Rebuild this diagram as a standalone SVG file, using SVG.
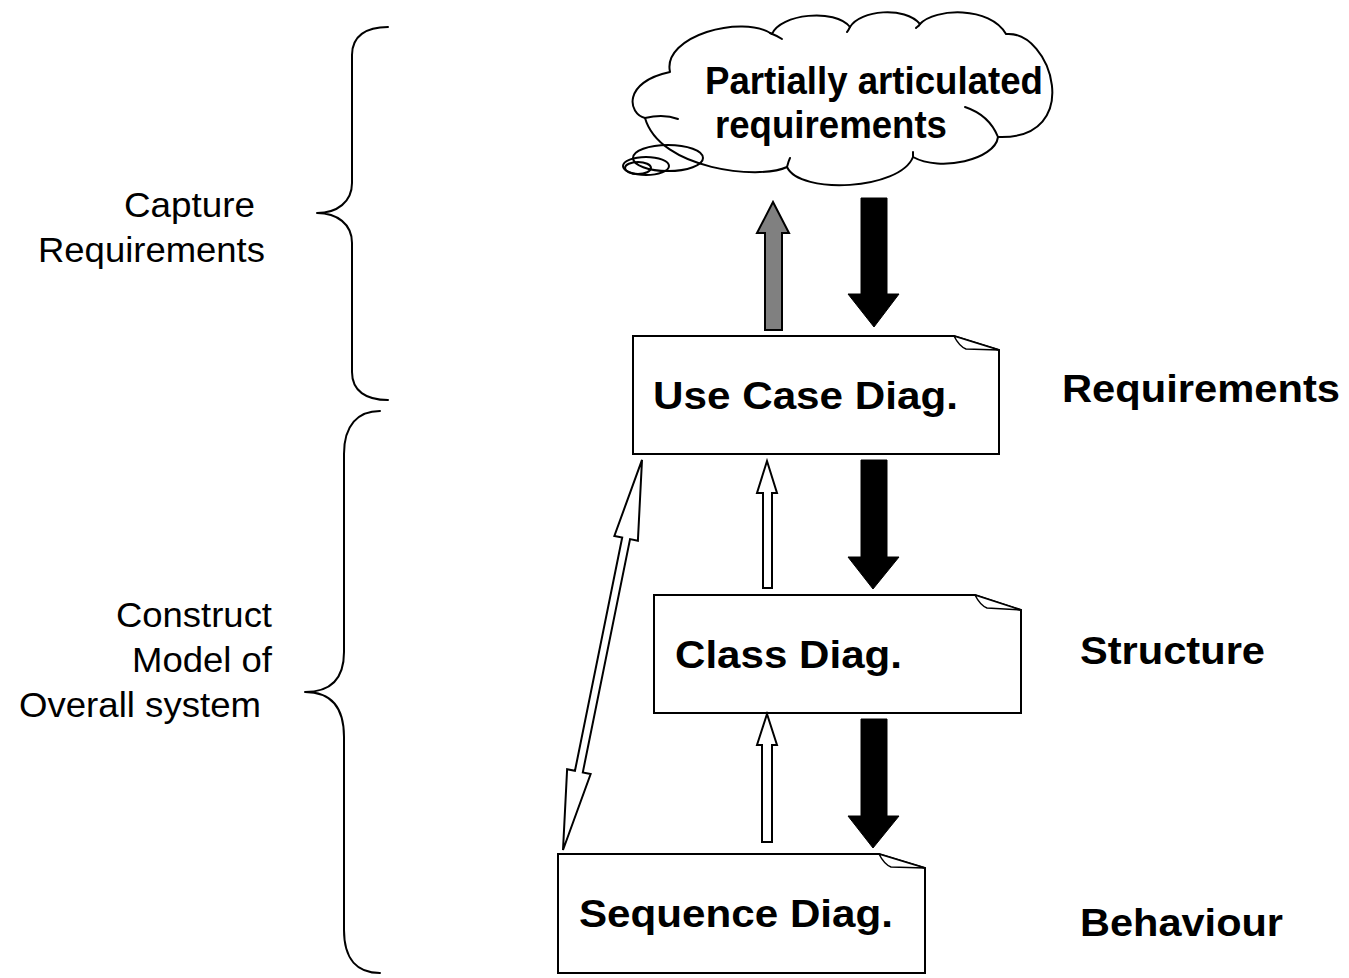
<svg xmlns="http://www.w3.org/2000/svg" width="1349" height="978" viewBox="0 0 1349 978">
  <style>
    .outline { fill: none; stroke: #000; stroke-width: 2; stroke-linecap: round; stroke-linejoin: round; }
    .doc { fill: #fff; stroke: #000; stroke-width: 2; stroke-linejoin: miter; }
    .fold { fill: #fff; stroke: #000; stroke-width: 1.5; stroke-linejoin: round; }
    .label { font-family: "Liberation Sans", Arial, sans-serif; font-size: 35px; fill: #000; }
    .title { font-family: "Liberation Sans", Arial, sans-serif; font-size: 39px; font-weight: bold; fill: #000; }
    .down { fill: #000; stroke: #000; stroke-width: 1; }
    .up-grey { fill: #808080; stroke: #000; stroke-width: 2; stroke-linejoin: miter; }
    .up-white { fill: #fff; stroke: #000; stroke-width: 2; stroke-linejoin: miter; }
  </style>

  <!-- phase braces and their captions -->
  <g id="brace-capture">
    <path class="outline" d="M388,27 C366,27 352,36 352,55 V183 C352,202 337,213 317,213 C337,213 352,224 352,243 V372 C352,391 366,400 388,400"/>
    <text class="label" x="124" y="217" textLength="131" lengthAdjust="spacingAndGlyphs">Capture</text>
    <text class="label" x="38" y="262" textLength="227" lengthAdjust="spacingAndGlyphs">Requirements</text>
  </g>
  <g id="brace-construct">
    <path class="outline" d="M380,411 C358,411 344,425 344,454 V652 C344,680 330,692 305,692 C330,692 344,706 344,737 V930 C344,960 358,973 380,973"/>
    <text class="label" x="116" y="627" textLength="156" lengthAdjust="spacingAndGlyphs">Construct</text>
    <text class="label" x="132" y="672" textLength="140" lengthAdjust="spacingAndGlyphs">Model of</text>
    <text class="label" x="19" y="717" textLength="242" lengthAdjust="spacingAndGlyphs">Overall system</text>
  </g>

  <!-- thought cloud -->
  <g id="cloud">
    <path d="M645,118 C628,114 622,82 670,72 C662,36 742,14 772,34 C780,14 835,8 850,27 C860,10 905,6 920,24 C935,8 990,6 1006,34 C1052,30 1085,140 998,137 C995,160 940,172 913,157 C900,190 800,195 787,167 C760,180 660,170 645,118 Z" fill="#fff" stroke="#000" stroke-width="2" stroke-linejoin="round"/>
    <path class="outline" d="M645,118 C658,115 670,116 678,119"/>
    <path class="outline" d="M770,33 C775,35 779,37 782,39"/>
    <path class="outline" d="M850,27 C849,29 848,31 847,32"/>
    <path class="outline" d="M920,24 C919,26 917,27 916,28"/>
    <path class="outline" d="M965,107 C980,112 992,122 998,137"/>
    <path class="outline" d="M913,157 C913,155 913,154 913,152"/>
    <path class="outline" d="M787,167 C788,163 789,160 790,158"/>
    <ellipse class="outline" cx="668" cy="158" rx="35" ry="13"/>
    <ellipse class="outline" cx="646" cy="166" rx="23" ry="9"/>
    <ellipse class="outline" cx="638" cy="168" rx="13" ry="6"/>
    <text class="title" x="705" y="94" font-size="36" textLength="338" lengthAdjust="spacingAndGlyphs">Partially articulated</text>
    <text class="title" x="715" y="138" font-size="36" textLength="232" lengthAdjust="spacingAndGlyphs">requirements</text>
  </g>

  <!-- diagram documents -->
  <g id="use-case">
    <path class="doc" d="M633,336 H954 L999,350 V454 H633 Z"/>
    <path class="fold" d="M954,336 C957,342 961,347 966,349 L999,350 Z"/>
    <text class="title" x="653" y="409" textLength="305" lengthAdjust="spacingAndGlyphs">Use Case Diag.</text>
  </g>
  <g id="class">
    <path class="doc" d="M654,595 H975 L1021,610 V713 H654 Z"/>
    <path class="fold" d="M975,595 C978,601 982,606 987,608 L1021,610 Z"/>
    <text class="title" x="675" y="668" textLength="227" lengthAdjust="spacingAndGlyphs">Class Diag.</text>
  </g>
  <g id="sequence">
    <path class="doc" d="M558,854 H879 L925,868 V973 H558 Z"/>
    <path class="fold" d="M879,854 C882,860 886,865 891,867 L925,868 Z"/>
    <text class="title" x="579" y="927" textLength="314" lengthAdjust="spacingAndGlyphs">Sequence Diag.</text>
  </g>

  <!-- level captions -->
  <g id="level-requirements">
    <text class="title" x="1062" y="402" textLength="278" lengthAdjust="spacingAndGlyphs">Requirements</text>
  </g>
  <g id="level-structure">
    <text class="title" x="1080" y="664" textLength="185" lengthAdjust="spacingAndGlyphs">Structure</text>
  </g>
  <g id="level-behaviour">
    <text class="title" x="1080" y="936" textLength="203" lengthAdjust="spacingAndGlyphs">Behaviour</text>
  </g>

  <!-- connectors -->
  <g id="connectors">
    <!-- refinement, top to bottom -->
    <polygon class="down" points="861,198 887,198 887,294 899,294 874,327 848,294 861,294"/>
    <polygon class="down" points="861,460 887,460 887,557 899,557 873,589 848,557 861,557"/>
    <polygon class="down" points="861,719 887,719 887,816 899,816 873,848 848,816 861,816"/>
    <!-- feedback, bottom to top -->
    <polygon class="up-grey" points="765,330 782,330 782,233 789,233 773,202 757,233 765,233"/>
    <polygon class="up-white" points="763,588 772,588 772,493 777,493 767,461 757,493 763,493"/>
    <polygon class="up-white" points="762,842 772,842 772,745 777,745 767,714 757,745 762,745"/>
    <!-- two-way link between use cases and sequences -->
    <polygon class="up-white" transform="translate(563,850) rotate(-78.55)" points="0,0 80,-12 80,-4 318,-4 318,-12 398,0 318,12 318,4 80,4 80,12"/>
  </g>
</svg>
